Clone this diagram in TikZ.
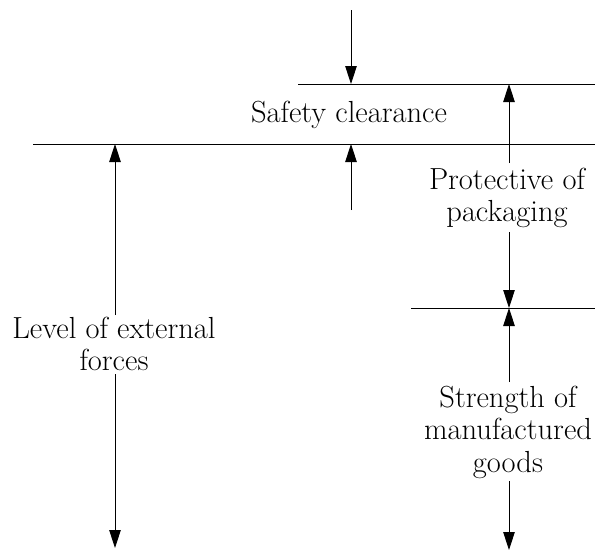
\documentclass[tikz,border=0pt]{standalone}
\usetikzlibrary{arrows.meta}
\begin{document}
\begin{tikzpicture}[x=1pt,y=-1pt,
  level/.style={line width=1pt},
  dim/.style={line width=0.9pt,-{Triangle[length=18pt,width=11.5pt]}},
  lbl/.style={font=\fontsize{30.5}{32.5}\selectfont,align=center,inner sep=0pt}]
\useasboundingbox (0,0) rectangle (595,552);
% level lines
\coordinate (l1a) at (298,84);  \coordinate (l1b) at (595,84);
\coordinate (l2a) at (33,144);  \coordinate (l2b) at (595,144);
\coordinate (l3a) at (411,308); \coordinate (l3b) at (595,308);
\draw[level] (l1a) -- (l1b);
\draw[level] (l2a) -- (l2b);
\draw[level] (l3a) -- (l3b);
% safety clearance
\node[lbl] (sc) at (349,115) {Safety clearance};
\coordinate (sctop) at (351,10);   \coordinate (sct) at (351,84);
\coordinate (scbot) at (351,210);  \coordinate (scb) at (351,144);
\draw[dim] (sctop) -- (sct);
\draw[dim] (scbot) -- (scb);
% protective of packaging
\node[lbl] (pp) at (507,198) {Protective of\\packaging};
\coordinate (ppt) at (509,84); \coordinate (ppb) at (509,308);
\coordinate (pps) at (509,163); \coordinate (ppe) at (509,232);
\draw[dim] (pps) -- (ppt);
\draw[dim] (ppe) -- (ppb);
% strength of manufactured goods
\node[lbl] (sg) at (508,432) {Strength of\\manufactured\\goods};
\coordinate (sgt) at (509,308); \coordinate (sgb) at (509,550);
\coordinate (sgs) at (509,382); \coordinate (sge) at (509,481);
\draw[dim] (sgs) -- (sgt);
\draw[dim] (sge) -- (sgb);
% level of external forces
\node[lbl] (lef) at (114,344) {Level of external\\forces};
\coordinate (left) at (115,144); \coordinate (lefb) at (115,548);
\coordinate (lefs) at (115,315); \coordinate (lefe) at (115,374);
\draw[dim] (lefs) -- (left);
\draw[dim] (lefe) -- (lefb);
\end{tikzpicture}
\end{document}
